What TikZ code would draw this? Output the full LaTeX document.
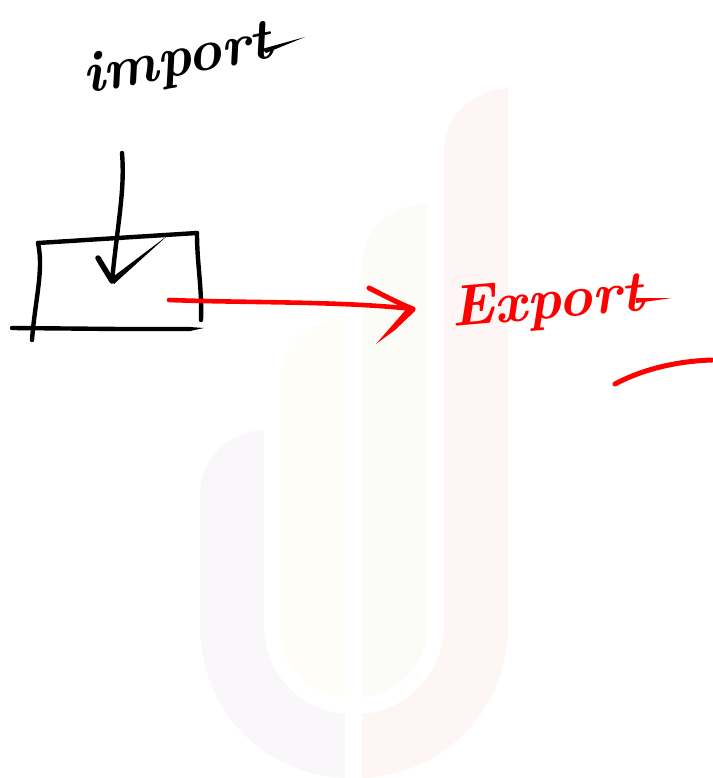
\documentclass[tikz,border=0pt]{standalone}
\usepackage{tikz}
\usetikzlibrary{positioning, calc}
\definecolor{logoPurple}{HTML}{F9F7FA}
\definecolor{logoYellow}{HTML}{FFFDF8}
\definecolor{logoGreen}{HTML}{FBFCF8}
\definecolor{logoRed}{HTML}{FEF6F5}
\tikzset{
    inkBlack/.style={draw=black, line width=4.4pt, line cap=round, line join=round},
    inkRed/.style={draw=red, line width=4.6pt, line cap=round, line join=round},
    handText/.style={font=\fontsize{58}{62}\selectfont\bfseries\itshape, inner sep=0pt, anchor=base west},
}
\begin{document}
\begin{tikzpicture}[x=1pt, y=-1pt]
        \useasboundingbox (0, 0) rectangle (712, 778);
        \fill[logoPurple] (264, 430) .. controls (228, 432) and (200, 458) .. (200, 495) -- (200, 625)
            .. controls (200, 712) and (265, 775) .. (345, 778) -- (345, 714)
            .. controls (298, 710) and (264, 672) .. (264, 625) -- cycle;
        \fill[logoYellow] (345, 318) .. controls (308, 320) and (280, 345) .. (280, 382) -- (280, 630)
            .. controls (280, 665) and (310, 694) .. (345, 697) -- cycle;
        \fill[logoGreen] (427, 203) .. controls (390, 205) and (362, 230) .. (362, 267) -- (362, 697)
            .. controls (397, 694) and (427, 665) .. (427, 630) -- cycle;
        \fill[logoRed] (508, 88) .. controls (472, 90) and (444, 116) .. (444, 152) -- (444, 625)
            .. controls (444, 672) and (409, 710) .. (362, 714) -- (362, 778)
            .. controls (442, 775) and (508, 712) .. (508, 625) -- cycle;

        \path (86, 94) node[handText, rotate=11, text=black](ImportText){import};
        \path (452, 327) node[handText, rotate=5, text=red](ExportText){Export};
        \fill[black] (262, 49) -- (305, 37) -- (266, 53) -- cycle;
        \fill[red] (636, 298) -- (672, 298) -- (636, 303) -- cycle;

        \coordinate (ImportStart) at (122, 153);
        \coordinate (ImportEnd) at (112, 281);
        \coordinate (ExportStart) at (169, 300);
        \coordinate (ExportEnd) at (413, 309);
        \coordinate (BoxTopLeft) at (38, 243);
        \coordinate (BoxTopRight) at (197, 233);
        \coordinate (BoxBottomLeft) at (32, 340);
        \coordinate (BoxBottomRight) at (201, 320);

        \draw[inkBlack] (BoxTopLeft) -- (BoxTopRight);
        \draw[inkBlack] (BoxTopLeft) .. controls (44, 270) and (35, 300) .. (BoxBottomLeft);
        \draw[inkBlack] (BoxTopRight) .. controls (197, 265) and (202, 285) .. (BoxBottomRight);
        \draw[inkBlack] (12, 328) -- (120, 329) -- (190, 329);
        \fill[black] (190, 327) -- (204, 328) -- (190, 331) -- cycle;

        \draw[inkBlack] (ImportStart) .. controls (125, 190) and (118, 220) .. (ImportEnd);
        \draw[inkBlack, line width=5.5pt] (98, 258) -- (ImportEnd);
        \fill[black] (110, 279) -- (167, 236) -- (114, 284) -- cycle;

        \draw[inkRed] (ExportStart) .. controls (250, 303) and (340, 301) .. (ExportEnd);
        \draw[inkRed, line width=5pt] (369, 288) .. controls (385, 296) and (398, 303) .. (ExportEnd);
        \fill[red] (409, 306) -- (415, 311) -- (395, 330) -- (376, 344) -- cycle;

        \draw[inkRed, line width=5pt] (615, 384) .. controls (645, 368) and (680, 361) .. (712, 360);
    \end{tikzpicture}
\end{document}
